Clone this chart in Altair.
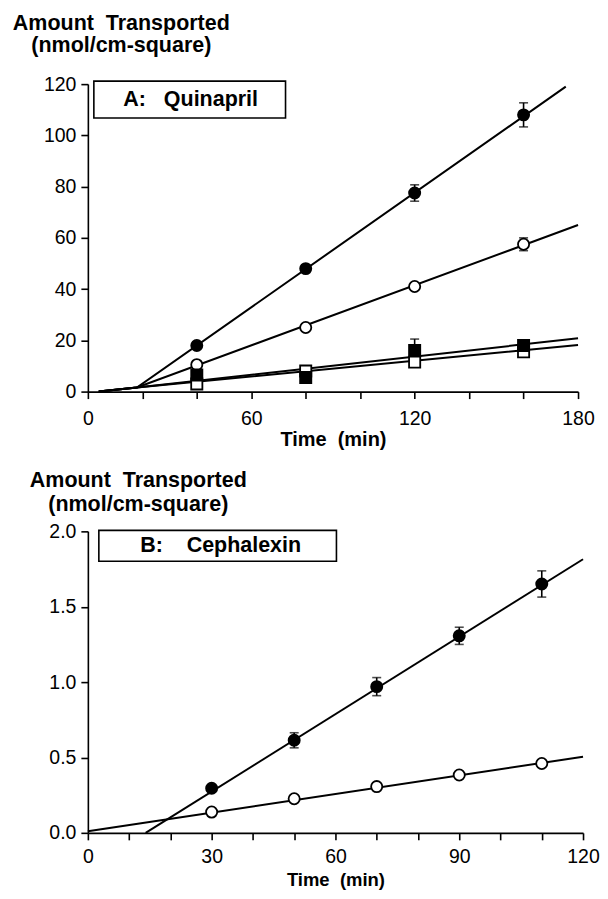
import altair as alt
import pandas as pd

# ---------------- Panel A: Quinapril ----------------
a_time = [40, 80, 120, 160]
a_filled_circle = [18, 48, 77.5, 108]
a_filled_circle_err = [0.8, 1.5, 3.2, 4.7]
a_open_circle = [10.5, 25, 41, 57.5]
a_open_circle_err = [0.5, 0.6, 1.0, 2.5]
a_filled_square = [6.5, 5.5, 16, 18]
a_filled_square_err = [2.5, 1.5, 4.5, 1.0]
a_open_square = [3, 8, 11.5, 15.5]
a_open_square_err = [0.5, 0.5, 1.0, 1.0]

# fitted lines (lag start, common point, end)
a_fit_x = [4, 18, 175.5]
a_fit_x_end = [4, 18, 180]
a_fit_filled_circle = [0, 1.6, 119]
a_fit_open_circle = [0, 1.6, 65]
a_fit_filled_square = [0, 1.6, 20.8]
a_fit_open_square = [0, 1.6, 18.2]

# ---------------- Panel B: Cephalexin ----------------
b_time = [30, 50, 70, 90, 110]
b_filled_circle = [0.296, 0.614, 0.97, 1.307, 1.651]
b_filled_circle_err = [0.02, 0.05, 0.06, 0.057, 0.087]
b_open_circle = [0.138, 0.226, 0.307, 0.384, 0.46]
b_open_circle_err = [0.008, 0.008, 0.008, 0.008, 0.01]
b_fit_filled_x = [14, 120]
b_fit_filled_y = [0, 1.815]
b_fit_open_x = [0, 120]
b_fit_open_y = [0.01, 0.505]

a_xticks = list(range(0, 181, 20))
a_yticks = [0, 20, 40, 60, 80, 100, 120]
b_xticks = list(range(0, 121, 10))
b_yticks = [0, 0.5, 1.0, 1.5, 2.0]

NB = "\u00a0"
y_title = ["Amount" + NB + NB + "Transported", "(nmol/cm-square)"]
x_title = "Time" + NB + NB + "(min)"
a_label = "A:" + NB * 3 + "Quinapril"
b_label = "B:" + NB * 4 + "Cephalexin"

FONT = "Liberation Sans"


def pts(series, times, vals, errs, shape, filled):
    return pd.DataFrame({
        "series": series, "t": times, "v": vals,
        "lo": [v - e for v, e in zip(vals, errs)],
        "hi": [v + e for v, e in zip(vals, errs)],
        "shape": shape, "filled": filled,
    })


def line_df(series, xs, ys):
    return pd.DataFrame({"series": series, "t": xs, "v": ys})


a_pts = pd.concat([
    pts("fc", a_time, a_filled_circle, a_filled_circle_err, "circle", "yes"),
    pts("oc", a_time, a_open_circle, a_open_circle_err, "circle", "no"),
    pts("os", a_time, a_open_square, a_open_square_err, "square", "no"),
    pts("fs", a_time, a_filled_square, a_filled_square_err, "square", "yes"),
])
a_lines = pd.concat([
    line_df("fc", a_fit_x, a_fit_filled_circle),
    line_df("oc", a_fit_x_end, a_fit_open_circle),
    line_df("fs", a_fit_x_end, a_fit_filled_square),
    line_df("os", a_fit_x_end, a_fit_open_square),
])
b_pts = pd.concat([
    pts("fc", b_time, b_filled_circle, b_filled_circle_err, "circle", "yes"),
    pts("oc", b_time, b_open_circle, b_open_circle_err, "circle", "no"),
])
b_lines = pd.concat([
    line_df("fc", b_fit_filled_x, b_fit_filled_y),
    line_df("oc", b_fit_open_x, b_fit_open_y),
])


def panel(p_df, l_df, xdom, ydom, xticks, xmod, yticks, yfmt, w, h,
          title_x, title_y, title_lh, lab_pad, t_pad, t_size, box, label, label_xy):
    xaxis = alt.Axis(values=xticks, labelExpr=f"datum.value % {xmod} == 0 ? datum.label : ''",
                     title=x_title, titleFont=FONT, titleFontSize=t_size, titleFontWeight="bold",
                     titlePadding=t_pad, labelPadding=lab_pad, labelFlush=False,
                     labelOverlap=False)
    yaxis = alt.Axis(values=yticks, format=yfmt, title=y_title, titleAngle=0,
                     titleAlign="center", titleBaseline="alphabetic",
                     titleX=title_x, titleY=title_y, titleFont=FONT, titleFontSize=21.5,
                     titleFontWeight="bold", titleLineHeight=title_lh, labelPadding=5)
    xs = alt.Scale(domain=xdom, nice=False, zero=False)
    ys = alt.Scale(domain=ydom, nice=False, zero=False)

    lines = alt.Chart(l_df).mark_line(color="black", strokeWidth=2).encode(
        x=alt.X("t:Q", scale=xs, axis=xaxis),
        y=alt.Y("v:Q", scale=ys, axis=yaxis),
        detail="series:N",
    )
    rules = alt.Chart(p_df).mark_rule(color="black", strokeWidth=1.6).encode(
        x="t:Q", y="lo:Q", y2="hi:Q")
    cap_hi = alt.Chart(p_df).mark_tick(color="black", orient="horizontal", size=9,
                                       thickness=1.6).encode(x="t:Q", y="hi:Q")
    cap_lo = alt.Chart(p_df).mark_tick(color="black", orient="horizontal", size=9,
                                       thickness=1.6).encode(x="t:Q", y="lo:Q")
    points = alt.Chart(p_df).mark_point(size=125, strokeWidth=1.8, stroke="black",
                                        opacity=1, filled=False).encode(
        x="t:Q", y="v:Q",
        shape=alt.Shape("shape:N", scale=alt.Scale(domain=["circle", "square"],
                                                   range=["circle", "square"]), legend=None),
        fill=alt.Fill("filled:N", scale=alt.Scale(domain=["yes", "no"],
                                                  range=["black", "white"]), legend=None),
    )
    bx = alt.Chart(pd.DataFrame({"k": [0]})).mark_rect(
        fill="white", stroke="black", strokeWidth=1.6).encode(
        x=alt.value(box[0]), x2=alt.value(box[1]), y=alt.value(box[2]), y2=alt.value(box[3]))
    txt = alt.Chart(pd.DataFrame({"k": [0]})).mark_text(
        text=label, font=FONT, fontSize=21.5, fontWeight="bold", align="center",
        baseline="middle", color="black").encode(
        x=alt.value(label_xy[0]), y=alt.value(label_xy[1]))
    return alt.layer(lines, rules, cap_hi, cap_lo, points, bx, txt).properties(width=w, height=h)


top = panel(a_pts, a_lines, [0, 180], [0, 120], a_xticks, 60, a_yticks, "d", 491, 308,
            33, -55, 22, 11, 1, 20, (6, 198, -3, 34), a_label, (103, 16))
bottom = panel(b_pts, b_lines, [0, 120], [0, 2.0], b_xticks, 30, b_yticks, ".1f", 496, 302,
               50, -45, 24, 8, 4, 18.5, (11, 249, -1, 30), b_label, (133, 15))

chart = alt.vconcat(top, bottom, spacing=20).properties(
    padding={"left": 4, "top": 3.5, "right": 0, "bottom": 0}
).configure_view(stroke=None).configure_axis(
    grid=False, domainColor="black", domainWidth=1.6, tickColor="black", tickWidth=1.6,
    tickSize=7, labelFont=FONT, labelFontSize=19.5, labelColor="black", titleColor="black",
)

chart.save("out.html", embed_options={"renderer": "svg", "actions": False})
